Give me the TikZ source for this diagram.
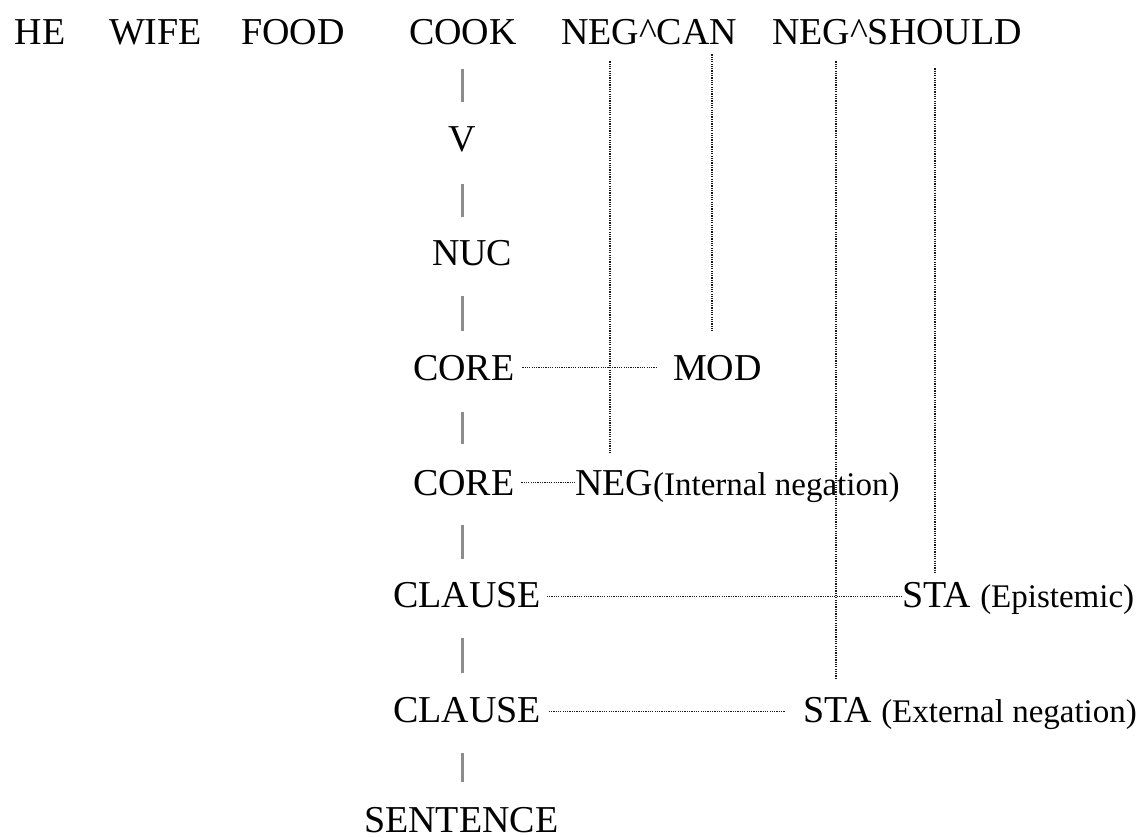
\documentclass[tikz,border=0pt]{standalone}
\usepackage{fontspec}
\setmainfont{Liberation Serif}
\newcommand\glosstext[1]{{\fontsize{33}{36}\selectfont #1}}
\begin{document}
\begin{tikzpicture}[x=1pt,y=-1pt,
  lbl/.style={anchor=base west, inner sep=0pt, outer sep=0pt,
              font=\fontsize{38}{40}\selectfont, text=black},
  stem/.style={draw=black!45, line width=3pt},
  dotline/.style={draw=black!90, line width=1.5pt, dash pattern=on 1.2pt off 1.1pt},
]
\fill[white] (0,0) rectangle (1144,838);
\useasboundingbox (0,0) rectangle (1144,838);

% column positions for the spine and the operator links
\coordinate (spine) at (462,0);
\coordinate (colA) at (610,0);
\coordinate (colB) at (712,0);
\coordinate (colC) at (836,0);
\coordinate (colD) at (935,0);

% words of the sentence
\node[lbl] (he)        at (15,44)  {HE};
\node[lbl] (wife)      at (109,44) {WIFE};
\node[lbl] (food)      at (241,44) {FOOD};
\node[lbl] (cook)      at (409,44) {COOK};
\node[lbl] (negcan)    at (561,44) {NEG\textasciicircum CAN};
\node[lbl] (negshould) at (772,44) {NEG\textasciicircum SHOULD};

% layered structure
\node[lbl] (v)        at (448.5,151) {V};
\node[lbl] (nuc)      at (432,265) {NUC};
\node[lbl] (core1)    at (413,380) {CORE};
\node[lbl] (mod)      at (673,380) {MOD};
\node[lbl] (core2)    at (413,495) {CORE};
\node[lbl] (neg)      at (575,495) {NEG\glosstext{(Internal negation)}};
\node[lbl] (clause1)  at (393,607) {CLAUSE};
\node[lbl] (staE)     at (902,607) {STA \glosstext{(Epistemic)}};
\node[lbl] (clause2)  at (393,722) {CLAUSE};
\node[lbl] (staX)     at (803,722) {STA \glosstext{(External negation)}};
\node[lbl] (sentence) at (364,832) {SENTENCE};

% spine of the tree
\draw[stem, shorten <=25pt, shorten >=24pt] (cook.south -| spine) -- (v.north -| spine);
\draw[stem, shorten <=32pt, shorten >=23pt] (v.south -| spine) -- (nuc.north -| spine);
\draw[stem, shorten <=31pt, shorten >=24pt] (nuc.south -| spine) -- (core1.north -| spine);
\draw[stem, shorten <=32pt, shorten >=26pt] (core1.south -| spine) -- (core2.north -| spine);
\draw[stem, shorten <=30pt, shorten >=23pt] (core2.south -| spine) -- (clause1.north -| spine);
\draw[stem, shorten <=31pt, shorten >=24pt] (clause1.south -| spine) -- (clause2.north -| spine);
\draw[stem, shorten <=31pt, shorten >=25pt] (clause2.south -| spine) -- (sentence.north -| spine);

% operators attached to their layers
\draw[dotline, shorten <=8pt, shorten >=15pt] (core1.east) -- (mod.west);
\draw[dotline, shorten <=7pt] (core2.east) -- (core2.east -| neg.west);
\draw[dotline, shorten <=6pt] ([yshift=-2pt]clause1.east) -- ([yshift=-2pt]clause1.east -| staE.west);
\draw[dotline, shorten <=8pt, shorten >=18pt] ([yshift=-2pt]clause2.east) -- ([yshift=-2pt]clause2.east -| staX.west);

% links from the words to the operators
\draw[dotline, shorten <=17pt, shorten >=17pt] (negcan.south -| colA) -- (neg.north -| colA);
\draw[dotline, shorten <=10pt, shorten >=24pt] (negcan.south -| colB) -- (mod.north -| colB);
\draw[dotline, shorten <=17pt, shorten >=19pt] (negshould.south -| colC) -- (staX.north -| colC);
\draw[dotline, shorten <=24pt, shorten >=9pt] (negshould.south -| colD) -- (staE.north -| colD);
\end{tikzpicture}
\end{document}
